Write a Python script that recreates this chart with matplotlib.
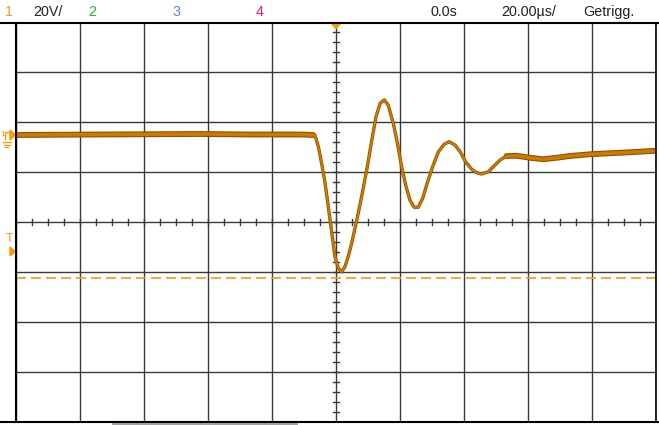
import matplotlib
matplotlib.use("Agg")
import matplotlib.pyplot as plt
from matplotlib.lines import Line2D
from matplotlib.patches import Polygon

time_us = [-100.0, -73.8, -42.5, -26.9, -11.3, -7.2, -6.6, -5.5, -4.5, -3.4, -2.4, -1.3,
           -0.3, 0.7, 1.8, 2.8, 3.8, 4.9, 6.5, 8.0, 9.6, 11.2, 12.5, 13.8, 15.1, 16.3,
           17.9, 19.2, 20.5, 21.9, 23.1, 24.4, 25.7, 27.1, 28.5, 30.2, 32.0, 33.8, 35.4,
           37.2, 38.8, 40.5, 42.4, 44.0, 45.5, 47.6, 49.7, 51.3, 53.3, 56.5, 60.6, 64.8,
           69.0, 73.1, 79.4, 85.6, 91.9, 100.0]
volts = [0.0, 0.2, 0.4, 0.2, 0.2, 0.0, 0.0, -4.7, -11.3, -19.3, -28.7, -39.3,
         -48.7, -53.3, -54.7, -52.7, -48.7, -43.3, -34.0, -24.7, -14.0, -2.0, 7.3, 12.7, 14.0, 12.0,
         4.7, -3.3, -12.7, -20.7, -26.0, -28.9, -28.9, -25.3, -19.3, -12.7, -6.7, -3.7, -2.7,
         -4.0, -6.7, -10.7, -13.7, -15.1, -15.6, -14.7, -12.0, -10.0, -8.4, -8.3, -9.1, -9.7,
         -9.1, -8.4, -7.7, -7.3, -6.9, -6.3]

volts_per_div = 20.0
us_per_div = 20.0
ch1_offset_div = 1.74          # channel 1 ground marker above screen centre
trigger_level_v = -57.3

header_labels = ["1", "20V/", "2", "3", "4", "0.0s", "20.00µs/", "Getrigg."]
header_x_px = [5, 33, 88, 172, 256, 430, 501, 583]
header_colors = ["#f0a020", "#202020", "#30b030", "#6080f0", "#f0107a",
                 "#202020", "#202020", "#202020"]

# ---- figure ----
W, H, DPI = 659, 425, 100
fig = plt.figure(figsize=(W / DPI, H / DPI), dpi=DPI)
fig.patch.set_facecolor("white")

def fx(px):
    return px / W

def fy(py):
    return 1 - py / H

left, right, top, bottom = 16, 656, 22, 422
ax = fig.add_axes([fx(left), fy(bottom), (right - left) / W, (bottom - top) / H])
ax.set_facecolor("white")

xmin, xmax = -5 * us_per_div, 5 * us_per_div
ymin = (-4 - ch1_offset_div) * volts_per_div
ymax = (4 - ch1_offset_div) * volts_per_div
ax.set_xlim(xmin, xmax)
ax.set_ylim(ymin, ymax)

ax.set_xticks([xmin + i * us_per_div for i in range(11)])
ax.set_yticks([ymin + i * volts_per_div for i in range(9)])
ax.tick_params(length=0, labelbottom=False, labelleft=False)
ax.grid(True, color="#3a3a3a", linewidth=1.0)
for s in ax.spines.values():
    s.set_visible(False)

# centre lines tick marks
xc = 0.0
yc = ymin + 4 * volts_per_div
tick_h = 3.0 / 50 * volts_per_div
for i in range(-20, 21):
    x = i * us_per_div / 4
    ax.plot([x, x], [yc - tick_h, yc + tick_h], color="#3a3a3a", lw=1.0, zorder=2)
tick_w = 3.0 / 64 * us_per_div
for j in range(-20, 21):
    y = yc + j * volts_per_div / 5
    ax.plot([xc - tick_w, xc + tick_w], [y, y], color="#3a3a3a", lw=1.0, zorder=2)

# trigger level dashed line
ax.axhline(trigger_level_v, color="#ff9900", lw=1.2, dashes=(6, 3), zorder=3)

# trace (noisy band is thicker on the quiet parts)
pre = [i for i, t in enumerate(time_us) if t <= -7.0]
post = [i for i, t in enumerate(time_us) if t >= 53.0]
for idx in (pre, post):
    ax.plot([time_us[i] for i in idx], [volts[i] for i in idx],
            color="#8a5200", lw=4.2, solid_capstyle="round", zorder=4)
    ax.plot([time_us[i] for i in idx], [volts[i] for i in idx],
            color="#cc7a00", lw=2.6, solid_capstyle="round", zorder=5)
ax.plot(time_us, volts, color="#8a5200", lw=2.4, solid_joinstyle="round", zorder=4)
ax.plot(time_us, volts, color="#cc7a00", lw=1.4, solid_joinstyle="round", zorder=5)

# frame lines across the full width
fig.add_artist(Line2D([0, 1], [fy(22.5), fy(22.5)], color="black", lw=1.5))
fig.add_artist(Line2D([0, 1], [fy(422.3), fy(422.3)], color="black", lw=1.5))
fig.add_artist(Line2D([fx(16), fx(16)], [fy(22.5), fy(422.3)], color="black", lw=1.5))
fig.add_artist(Line2D([fx(655.5), fx(655.5)], [fy(22.5), fy(422.3)], color="black", lw=1.2))

# grey bar under the screen
fig.add_artist(Line2D([fx(113), fx(297)], [fy(424), fy(424)], color="#a0a0a0", lw=1.5))

# trigger position marker at the top
fig.add_artist(Polygon([[fx(331), fy(23)], [fx(341), fy(23)], [fx(336), fy(28.5)]],
                       closed=True, color="#ff9900", transform=fig.transFigure))

# channel 1 marker on the left
orange = "#ff9900"
fig.text(fx(0.5), fy(135), "1", color=orange, fontsize=6, va="center", ha="left",
         family=["Liberation Sans", "DejaVu Sans"])
fig.add_artist(Line2D([fx(5), fx(5), fx(10)], [fy(139), fy(132), fy(132)], color=orange, lw=1.0))
fig.add_artist(Polygon([[fx(10), fy(130)], [fx(10), fy(140)], [fx(15.5), fy(135)]],
                       closed=True, color=orange, transform=fig.transFigure))
for k, half in enumerate([4, 3, 1.5]):
    yy = 142.5 + 2.2 * k
    fig.add_artist(Line2D([fx(6.5 - half), fx(6.5 + half)], [fy(yy), fy(yy)], color=orange, lw=0.9))

# trigger level marker on the left
fig.text(fx(10), fy(239.5), "T", color=orange, fontsize=9, va="center", ha="center",
         family=["Liberation Sans", "DejaVu Sans"])
fig.add_artist(Polygon([[fx(10), fy(247)], [fx(10), fy(256)], [fx(15.5), fy(251.5)]],
                       closed=True, color=orange, transform=fig.transFigure))

# header texts
for lab, xp, col in zip(header_labels, header_x_px, header_colors):
    fig.text(fx(xp), fy(12), lab, color=col, fontsize=10.3, va="center", ha="left",
             family=["Liberation Sans", "DejaVu Sans"])

fig.savefig("out.png", dpi=DPI, facecolor="white")
